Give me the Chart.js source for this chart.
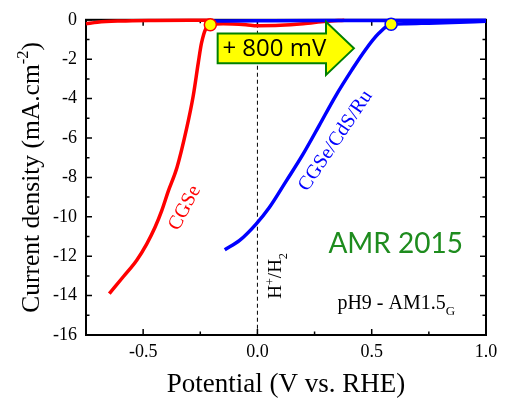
<!DOCTYPE html>
<html>
<head>
<meta charset="utf-8">
<script src="https://cdn.jsdelivr.net/npm/chart.js@4.4.1/dist/chart.umd.min.js"></script>
<style>
  html, body { margin: 0; padding: 0; background: #fff; }
  #wrap { width: 510px; height: 404px; }
</style>
</head>
<body>
<div id="wrap"><canvas id="chart" width="510" height="404"></canvas></div>
<script>
// CGSe under light (red)
const cgseX = [-0.648, -0.586, -0.528, -0.484, -0.448, -0.419, -0.39, -0.352, -0.31, -0.281, -0.259, -0.245, -0.226, -0.206, -0.15, -0.05, 0.0, 0.1, 0.2, 0.3, 0.38];
const cgseY = [-13.9, -13.03, -12.2, -11.37, -10.53, -9.7, -8.7, -7.5, -5.53, -3.87, -2.2, -1.2, -0.45, -0.25, -0.2, -0.25, -0.3, -0.28, -0.2, -0.08, -0.02];
// CGSe dark (red, flat)
const cgseDarkX = [-0.75, -0.7, -0.6, -0.45, -0.3, -0.206];
const cgseDarkY = [-0.2, -0.12, -0.06, -0.03, -0.02, -0.02];
// CGSe/CdS/Ru under light (blue)
const rutX = [-0.143, -0.078, -0.006, 0.052, 0.125, 0.197, 0.27, 0.342, 0.414, 0.472, 0.53, 0.585, 0.65, 0.75, 0.85, 0.95, 1.0];
const rutY = [-11.67, -11.2, -10.37, -9.53, -8.2, -6.87, -5.37, -3.87, -2.53, -1.53, -0.7, -0.23, -0.2, -0.17, -0.14, -0.1, -0.08];
// CGSe/CdS/Ru dark (blue, flat)
const rutDarkX = [-0.19, 0.0, 0.3, 0.6, 0.8, 1.0];
const rutDarkY = [-0.06, -0.05, -0.04, -0.04, -0.03, -0.02];
// onset markers
const onsetX = [-0.206, 0.585];
const onsetY = [-0.25, -0.23];
const onsetEdge = ['#ff0000', '#0000ff'];

const xTicks = [-0.5, 0.0, 0.5, 1.0];
const xMinor = [-0.75, -0.25, 0.25, 0.75];
const yTicks = [0, -2, -4, -6, -8, -10, -12, -14, -16];
const yMinor = [-1, -3, -5, -7, -9, -11, -13, -15];

const pts = (xs, ys) => xs.map((x, i) => ({ x: x, y: ys[i] }));
const serif = '"Liberation Serif", "Times New Roman", serif';

// draw a run of text pieces with super/subscripts
function richText(ctx, parts, x, y, size, align) {
  let w = 0;
  parts.forEach(p => {
    ctx.font = (size * (p.s || 1)) + 'px ' + serif;
    w += ctx.measureText(p.t).width;
  });
  let cx = align === 'center' ? x - w / 2 : x;
  parts.forEach(p => {
    ctx.font = (size * (p.s || 1)) + 'px ' + serif;
    ctx.fillText(p.t, cx, y + (p.dy || 0) * size);
    cx += ctx.measureText(p.t).width;
  });
}

const framePlugin = {
  id: 'frame',
  beforeDatasetsDraw(chart) {
    const { ctx, chartArea: a, scales: { x, y } } = chart;
    ctx.save();
    // dashed H+/H2 line
    ctx.strokeStyle = '#000';
    ctx.lineWidth = 1;
    ctx.setLineDash([4, 3]);
    ctx.beginPath();
    ctx.moveTo(x.getPixelForValue(0), y.getPixelForValue(-0.2));
    ctx.lineTo(x.getPixelForValue(0), a.bottom);
    ctx.stroke();
    ctx.setLineDash([]);
    // frame
    ctx.lineWidth = 2;
    ctx.strokeRect(a.left, a.top, a.right - a.left, a.bottom - a.top);
    // inward ticks
    ctx.lineWidth = 1.5;
    ctx.beginPath();
    const tx = (v, len) => {
      const px = x.getPixelForValue(v);
      ctx.moveTo(px, a.bottom); ctx.lineTo(px, a.bottom - len);
      ctx.moveTo(px, a.top); ctx.lineTo(px, a.top + len);
    };
    const ty = (v, len) => {
      const py = y.getPixelForValue(v);
      ctx.moveTo(a.left, py); ctx.lineTo(a.left + len, py);
      ctx.moveTo(a.right, py); ctx.lineTo(a.right - len, py);
    };
    xTicks.forEach(v => tx(v, 6));
    xMinor.forEach(v => tx(v, 3.5));
    yTicks.forEach(v => ty(v, 6));
    yMinor.forEach(v => ty(v, 3.5));
    ctx.stroke();
    ctx.restore();
  },
  afterDatasetsDraw(chart) {
    const { ctx, scales: { x, y } } = chart;
    ctx.save();
    // +800 mV arrow
    const X = v => x.getPixelForValue(v), Y = v => y.getPixelForValue(v);
    ctx.beginPath();
    ctx.moveTo(X(-0.174), Y(-0.7));
    ctx.lineTo(X(0.30), Y(-0.7));
    ctx.lineTo(X(0.30), Y(-0.1));
    ctx.lineTo(X(0.422), Y(-1.45));
    ctx.lineTo(X(0.30), Y(-2.8));
    ctx.lineTo(X(0.30), Y(-2.2));
    ctx.lineTo(X(-0.174), Y(-2.2));
    ctx.closePath();
    ctx.fillStyle = '#ffff00';
    ctx.fill();
    ctx.strokeStyle = '#008000';
    ctx.lineWidth = 2;
    ctx.stroke();
    ctx.fillStyle = '#000';
    ctx.font = '24px "Open Sans", sans-serif';
    ctx.textAlign = 'center';
    ctx.textBaseline = 'middle';
    ctx.fillText('+ 800 mV', X(0.074), Y(-1.45) + 1);

    // AMR 2015
    ctx.fillStyle = '#1e8c1e';
    ctx.font = '28px Lato, sans-serif';
    ctx.textBaseline = 'alphabetic';
    ctx.fillText('AMR 2015', X(0.605), Y(-11.85));

    // pH9 - AM1.5G
    ctx.fillStyle = '#000';
    ctx.textAlign = 'left';
    richText(ctx, [{ t: 'pH9 - AM1.5' }, { t: 'G', s: 0.65, dy: 0.3 }], X(0.35), Y(-14.7), 20);

    // H+/H2
    ctx.save();
    ctx.translate(X(0.105), Y(-13.0));
    ctx.rotate(-Math.PI / 2);
    richText(ctx, [{ t: 'H' }, { t: '+', s: 0.65, dy: -0.4 }, { t: '/H' }, { t: '2', s: 0.65, dy: 0.3 }], 0, 0, 19, 'center');
    ctx.restore();

    // curve labels
    ctx.textAlign = 'center';
    ctx.textBaseline = 'middle';
    ctx.save();
    ctx.translate(X(-0.318), Y(-9.55));
    ctx.rotate(-62 * Math.PI / 180);
    ctx.fillStyle = '#ff0000';
    ctx.font = '20px ' + serif;
    ctx.fillText('CGSe', 0, 0);
    ctx.restore();
    ctx.save();
    ctx.translate(X(0.342), Y(-6.15));
    ctx.rotate(-56 * Math.PI / 180);
    ctx.fillStyle = '#0000ff';
    ctx.font = '20px ' + serif;
    ctx.fillText('CGSe/CdS/Ru', 0, 0);
    ctx.restore();
    ctx.restore();
  },
  afterDraw(chart) {
    const { ctx, chartArea: a } = chart;
    ctx.save();
    ctx.fillStyle = '#000';
    ctx.textBaseline = 'alphabetic';
    richText(ctx, [{ t: 'Potential (V vs. RHE)' }], (a.left + a.right) / 2, 392, 27, 'center');
    ctx.translate(39, (a.top + a.bottom) / 2);
    ctx.rotate(-Math.PI / 2);
    richText(ctx, [{ t: 'Current density (mA.cm' }, { t: '-2', s: 0.65, dy: -0.45 }, { t: ')' }], 0, 0, 25.5, 'center');
    ctx.restore();
  }
};

const lineSet = (data, color, order) => ({
  data: data, borderColor: color, borderWidth: 3.5, pointRadius: 0,
  showLine: true, fill: false, cubicInterpolationMode: 'monotone', clip: false, order: order
});

new Chart(document.getElementById('chart'), {
  type: 'scatter',
  data: {
    datasets: [
      {
        data: pts(onsetX, onsetY), pointRadius: 6, pointBackgroundColor: '#ffff00',
        pointBorderColor: onsetEdge, pointBorderWidth: 1.5, showLine: false, clip: false, order: 0
      },
      lineSet(pts(rutX, rutY), '#0000ff', 1),
      lineSet(pts(rutDarkX, rutDarkY), '#0000ff', 2),
      lineSet(pts(cgseX, cgseY), '#ff0000', 3),
      lineSet(pts(cgseDarkX, cgseDarkY), '#ff0000', 4)
    ]
  },
  options: {
    responsive: false,
    animation: false,
    layout: { padding: { left: 0, top: 16, right: 24, bottom: 0 } },
    plugins: { legend: { display: false }, tooltip: { enabled: false } },
    scales: {
      x: {
        type: 'linear', min: -0.75, max: 1.0,
        grid: { display: false, drawTicks: false }, border: { display: false },
        afterBuildTicks: s => { s.ticks = xTicks.map(v => ({ value: v })); },
        afterFit: s => { s.height = 69; },
        ticks: {
          padding: 6, color: '#000', maxRotation: 0, autoSkip: false,
          font: { family: serif, size: 18 },
          callback: v => v.toFixed(1)
        }
      },
      y: {
        type: 'linear', min: -16, max: 0,
        grid: { display: false, drawTicks: false }, border: { display: false },
        afterBuildTicks: s => { s.ticks = yTicks.map(v => ({ value: v })); },
        afterFit: s => { s.width = 86; },
        ticks: {
          padding: 9, color: '#000', autoSkip: false,
          font: { family: serif, size: 18 },
          callback: v => String(v)
        }
      }
    }
  },
  plugins: [framePlugin]
});
</script>
</body>
</html>
